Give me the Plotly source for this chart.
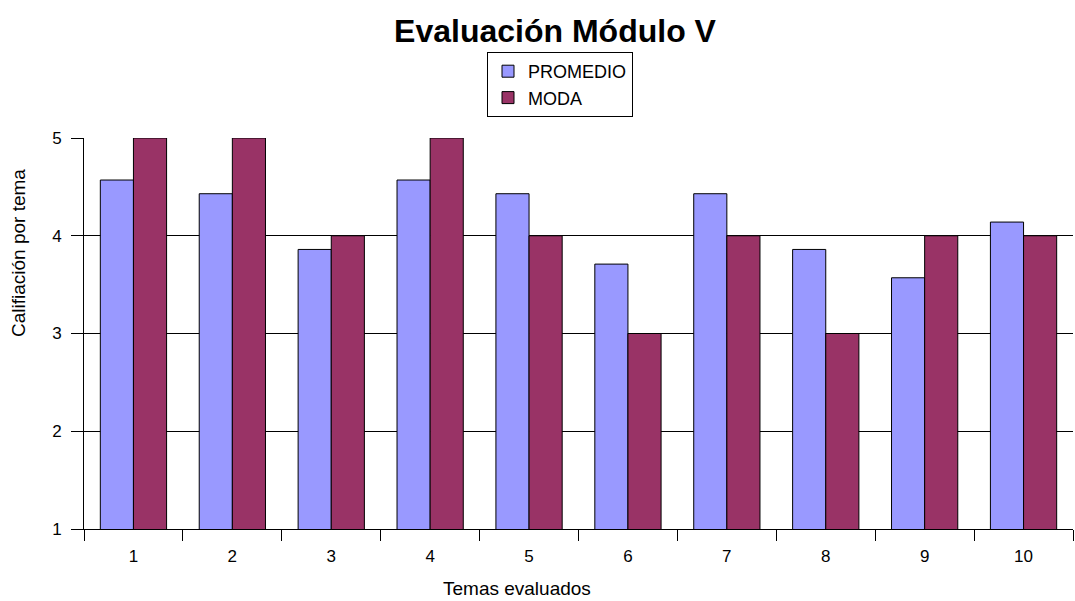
import plotly.graph_objects as go

temas = ["1", "2", "3", "4", "5", "6", "7", "8", "9", "10"]
promedio = [4.57, 4.43, 3.86, 4.57, 4.43, 3.71, 4.43, 3.86, 3.57, 4.14]
moda = [5, 5, 4, 5, 4, 3, 4, 3, 4, 4]

FONT = "Liberation Sans, Arial, sans-serif"
L, R, T, B = 84, 1073, 138, 529
PW, PH = R - L, B - T

fig = go.Figure()
fig.add_trace(go.Bar(x=temas, y=promedio, name="PROMEDIO",
                     marker=dict(color="#9999FF", line=dict(color="black", width=1))))
fig.add_trace(go.Bar(x=temas, y=moda, name="MODA",
                     marker=dict(color="#993366", line=dict(color="black", width=1))))

def px_to_paper(px, py):
    return (px - L) / PW, (B - py) / PH

ax_x, ax_y = px_to_paper(517, 588)
ay_x, ay_y = px_to_paper(18, 253)
lg_x, lg_y = px_to_paper(487, 52)

fig.update_layout(
    width=1075, height=601,
    paper_bgcolor="white", plot_bgcolor="white",
    margin=dict(l=L, r=1075 - R, t=T, b=601 - B, autoexpand=False),
    barmode="group", bargap=0.33, bargroupgap=0,
    font=dict(family=FONT, size=17, color="black"),
    title=dict(text="<b>Evaluación Módulo V</b>", x=555 / 1075, xanchor="center",
               y=1 - 31 / 601, yanchor="middle", xref="container", yref="container",
               font=dict(family=FONT, size=32, color="black")),
    legend=dict(x=lg_x, xanchor="left", y=lg_y, yanchor="top",
                bordercolor="black", borderwidth=1, bgcolor="white",
                font=dict(family=FONT, size=18, color="black"),
                tracegroupgap=0, itemwidth=30),
    showlegend=True,
    xaxis=dict(type="category", tickson="boundaries", ticks="outside", ticklen=11,
               tickcolor="black", showline=True, linecolor="black", linewidth=1,
               showgrid=False, tickfont=dict(size=17), ticklabelstandoff=12),
    yaxis=dict(range=[1, 5], dtick=1, ticks="outside", ticklen=12, tickcolor="black",
               showline=True, linecolor="black", linewidth=1, showgrid=True,
               gridcolor="black", gridwidth=1, tickfont=dict(size=17), zeroline=False,
               ticklabelstandoff=6),
    annotations=[
        dict(text="Temas evaluados", x=ax_x, y=ax_y, xref="paper", yref="paper",
             xanchor="center", yanchor="middle", showarrow=False, font=dict(size=19)),
        dict(text="Califiación por tema", x=ay_x, y=ay_y, textangle=-90, xref="paper",
             yref="paper", xanchor="center", yanchor="middle", showarrow=False,
             font=dict(size=19)),
    ],
)

fig.write_html("out.html", config={"displayModeBar": False},
               post_script="document.body.style.margin='0';")
